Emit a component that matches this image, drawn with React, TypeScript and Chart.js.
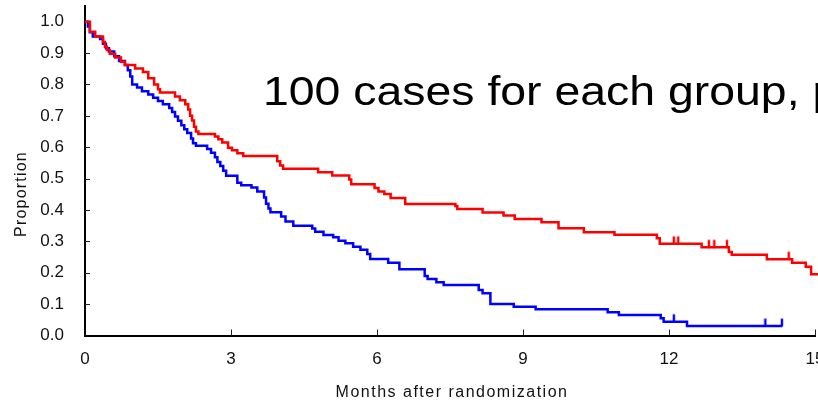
import { useEffect, useRef } from 'react';
import { Chart, registerables } from 'chart.js';

Chart.register(...registerables);

// Kaplan–Meier estimates: months at which the curve steps down, and the level after each step.
const redTimes = [0, 0.1, 0.21, 0.37, 0.41, 0.45, 0.51, 0.62, 0.74, 0.82, 1.03, 1.19, 1.3, 1.42, 1.5, 1.54, 1.85, 1.95, 2.06, 2.12, 2.16, 2.2, 2.24, 2.28, 2.33, 2.67, 2.74, 2.82, 2.94, 3.02, 3.13, 3.25, 3.95, 4.01, 4.07, 4.79, 5.08, 5.43, 5.47, 5.95, 6.03, 6.15, 6.28, 6.58, 7.61, 7.65, 8.17, 8.6, 8.83, 9.38, 9.73, 10.25, 10.88, 11.75, 11.81, 12.67, 13.23, 13.29, 14.01, 14.53, 14.81, 14.92, 15.1];
const redSurv = [1.0, 0.968, 0.953, 0.935, 0.92, 0.91, 0.898, 0.886, 0.872, 0.862, 0.851, 0.84, 0.82, 0.8, 0.785, 0.774, 0.762, 0.75, 0.737, 0.72, 0.7, 0.685, 0.665, 0.65, 0.642, 0.634, 0.625, 0.615, 0.598, 0.59, 0.581, 0.572, 0.555, 0.542, 0.531, 0.52, 0.51, 0.497, 0.482, 0.47, 0.459, 0.451, 0.438, 0.419, 0.413, 0.403, 0.392, 0.382, 0.371, 0.361, 0.342, 0.329, 0.321, 0.31, 0.292, 0.281, 0.266, 0.257, 0.243, 0.232, 0.219, 0.195, 0.195];

const blueTimes = [0, 0.06, 0.1, 0.16, 0.31, 0.37, 0.43, 0.49, 0.6, 0.7, 0.82, 0.88, 0.93, 0.97, 1.07, 1.17, 1.3, 1.4, 1.5, 1.6, 1.73, 1.79, 1.85, 1.91, 1.98, 2.04, 2.1, 2.18, 2.22, 2.28, 2.51, 2.59, 2.67, 2.72, 2.78, 2.84, 2.9, 3.13, 3.21, 3.42, 3.54, 3.68, 3.72, 3.77, 3.81, 4.03, 4.12, 4.28, 4.67, 4.73, 4.9, 5.1, 5.21, 5.35, 5.51, 5.66, 5.8, 5.86, 6.23, 6.46, 6.98, 7.04, 7.22, 7.37, 8.09, 8.17, 8.33, 8.81, 9.26, 10.74, 10.97, 11.83, 11.89, 12.37, 14.32];
const blueSurv = [1.0, 0.985, 0.966, 0.953, 0.945, 0.93, 0.915, 0.905, 0.89, 0.875, 0.862, 0.845, 0.825, 0.8, 0.79, 0.778, 0.768, 0.758, 0.747, 0.737, 0.725, 0.712, 0.698, 0.684, 0.67, 0.657, 0.645, 0.628, 0.613, 0.605, 0.594, 0.582, 0.568, 0.553, 0.54, 0.525, 0.509, 0.487, 0.479, 0.472, 0.459, 0.44, 0.42, 0.405, 0.393, 0.379, 0.363, 0.35, 0.341, 0.331, 0.32, 0.313, 0.302, 0.294, 0.283, 0.273, 0.26, 0.244, 0.232, 0.211, 0.19, 0.18, 0.17, 0.161, 0.145, 0.135, 0.1, 0.092, 0.084, 0.074, 0.065, 0.055, 0.044, 0.03, 0.03];

// Censored observations (months)
const redCensored = [12.1, 12.19, 12.82, 12.93, 13.19, 14.46];
const blueCensored = [12.1, 13.98, 14.32];

const xTicks = [0, 3, 6, 9, 12, 15];
const yTicks = [0, 0.1, 0.2, 0.3, 0.4, 0.5, 0.6, 0.7, 0.8, 0.9, 1.0];

const xTitle = 'Months after randomization';
const yTitle = 'Proportion';
const caption = '100 cases for each group, p';

const RED = '#ff0000';
const BLUE = '#0000ff';
const FONT = '"Liberation Sans", Arial, sans-serif';

function toPoints(times: number[], surv: number[]) {
  return times.map((t, i) => ({ x: t, y: surv[i] }));
}

// level of a step curve at time t
function levelAt(times: number[], surv: number[], t: number) {
  let v = surv[0];
  for (let i = 0; i < times.length; i++) {
    if (times[i] <= t) v = surv[i];
  }
  return v;
}

// tick mark that rises from the curve for a censored case
function censorMark(color: string) {
  const c = document.createElement('canvas');
  c.width = 4;
  c.height = 18;
  const g = c.getContext('2d')!;
  g.strokeStyle = color;
  g.lineWidth = 2.4;
  g.beginPath();
  g.moveTo(2, 1.5);
  g.lineTo(2, 9.5);
  g.stroke();
  return c;
}

const decorations = {
  id: 'decorations',
  beforeDatasetsDraw(chart: any) {
    const { ctx } = chart;
    const xs = chart.scales.x;
    const ys = chart.scales.y;
    const left = chart.chartArea.left;
    const bottom = chart.chartArea.bottom;
    ctx.save();
    ctx.strokeStyle = '#222';
    ctx.lineWidth = 1;
    ctx.beginPath();
    yTicks.slice(1).forEach((v) => {
      const py = Math.round(ys.getPixelForValue(v)) + 0.5;
      ctx.moveTo(left, py);
      ctx.lineTo(left + 5, py);
    });
    xTicks.slice(1).forEach((v) => {
      const px = Math.round(xs.getPixelForValue(v)) + 0.5;
      ctx.moveTo(px, bottom);
      ctx.lineTo(px, bottom - 6);
    });
    ctx.stroke();
    ctx.restore();
  },
  afterDraw(chart: any) {
    const { ctx } = chart;
    const area = chart.chartArea;
    ctx.save();
    ctx.fillStyle = '#111';
    // x axis title
    ctx.font = `16px ${FONT}`;
    (ctx as any).letterSpacing = '1.5px';
    ctx.textAlign = 'center';
    ctx.textBaseline = 'alphabetic';
    ctx.fillText(xTitle, 452, 397);
    // y axis title
    ctx.save();
    ctx.translate(26, 194);
    ctx.rotate(-Math.PI / 2);
    (ctx as any).letterSpacing = '1.2px';
    ctx.fillText(yTitle, 0, 0);
    ctx.restore();
    // caption inside the plot
    (ctx as any).letterSpacing = '0px';
    ctx.fillStyle = '#000';
    ctx.translate(263, 105);
    ctx.scale(1.16, 1);
    ctx.font = `40px ${FONT}`;
    ctx.textAlign = 'left';
    ctx.fillText(caption, 0, 0);
    ctx.restore();
    void area;
  },
};

export default function App() {
  const ref = useRef<HTMLCanvasElement>(null);

  useEffect(() => {
    const canvas = ref.current;
    if (!canvas) return;
    const chart = new Chart(canvas, {
      type: 'line',
      data: {
        datasets: [
          {
            label: 'censored (red)',
            type: 'scatter',
            data: redCensored.map((t) => ({ x: t, y: levelAt(redTimes, redSurv, t) })),
            pointStyle: censorMark(RED) as any,
            pointRadius: 5,
            showLine: false,
            clip: false,
          } as any,
          {
            label: 'censored (blue)',
            type: 'scatter',
            data: blueCensored.map((t) => ({ x: t, y: levelAt(blueTimes, blueSurv, t) })),
            pointStyle: censorMark(BLUE) as any,
            pointRadius: 5,
            showLine: false,
            clip: false,
          } as any,
          {
            label: 'red group',
            data: toPoints(redTimes, redSurv),
            borderColor: RED,
            borderWidth: 2.5,
            stepped: 'before',
            pointRadius: 0,
            fill: false,
            clip: false,
          },
          {
            label: 'blue group',
            data: toPoints(blueTimes, blueSurv),
            borderColor: BLUE,
            borderWidth: 2.5,
            stepped: 'before',
            pointRadius: 0,
            fill: false,
            clip: false,
          },
        ],
      },
      options: {
        responsive: false,
        animation: false,
        devicePixelRatio: 1,
        events: [],
        layout: { autoPadding: false, padding: { top: 6, right: 25, bottom: 0, left: 0 } },
        plugins: { legend: { display: false }, tooltip: { enabled: false }, title: { display: false } },
        scales: {
          x: {
            type: 'linear',
            min: 0,
            max: 15,
            grid: { display: false, drawTicks: false },
            border: { display: true, color: '#000', width: 2 },
            ticks: {
              stepSize: 3,
              padding: 14,
              color: '#111',
              font: { family: FONT, size: 17 },
              maxRotation: 0,
              autoSkip: false,
              callback: (v: any) => String(v),
            },
            afterFit: (s: any) => {
              s.height = 67.5;
              s.paddingLeft = 0;
              s.paddingRight = 0;
            },
          },
          y: {
            type: 'linear',
            min: 0,
            max: 1.05,
            grid: { display: false, drawTicks: false },
            border: { display: true, color: '#000', width: 2 },
            ticks: {
              stepSize: 0.1,
              includeBounds: false,
              padding: 21,
              color: '#111',
              font: { family: FONT, size: 17 },
              callback: (v: any) => Number(v).toFixed(1),
            },
            afterFit: (s: any) => {
              s.width = 85;
              s.paddingTop = 0;
              s.paddingBottom = 0;
            },
          },
        },
      },
      plugins: [decorations],
    });
    return () => chart.destroy();
  }, []);

  return (
    <div
      style={{
        position: 'fixed',
        left: 0,
        top: 0,
        width: 818,
        height: 403,
        overflow: 'hidden',
        background: '#fff',
      }}
    >
      <canvas ref={ref} width={840} height={403} style={{ display: 'block', width: 840, height: 403 }} />
    </div>
  );
}
